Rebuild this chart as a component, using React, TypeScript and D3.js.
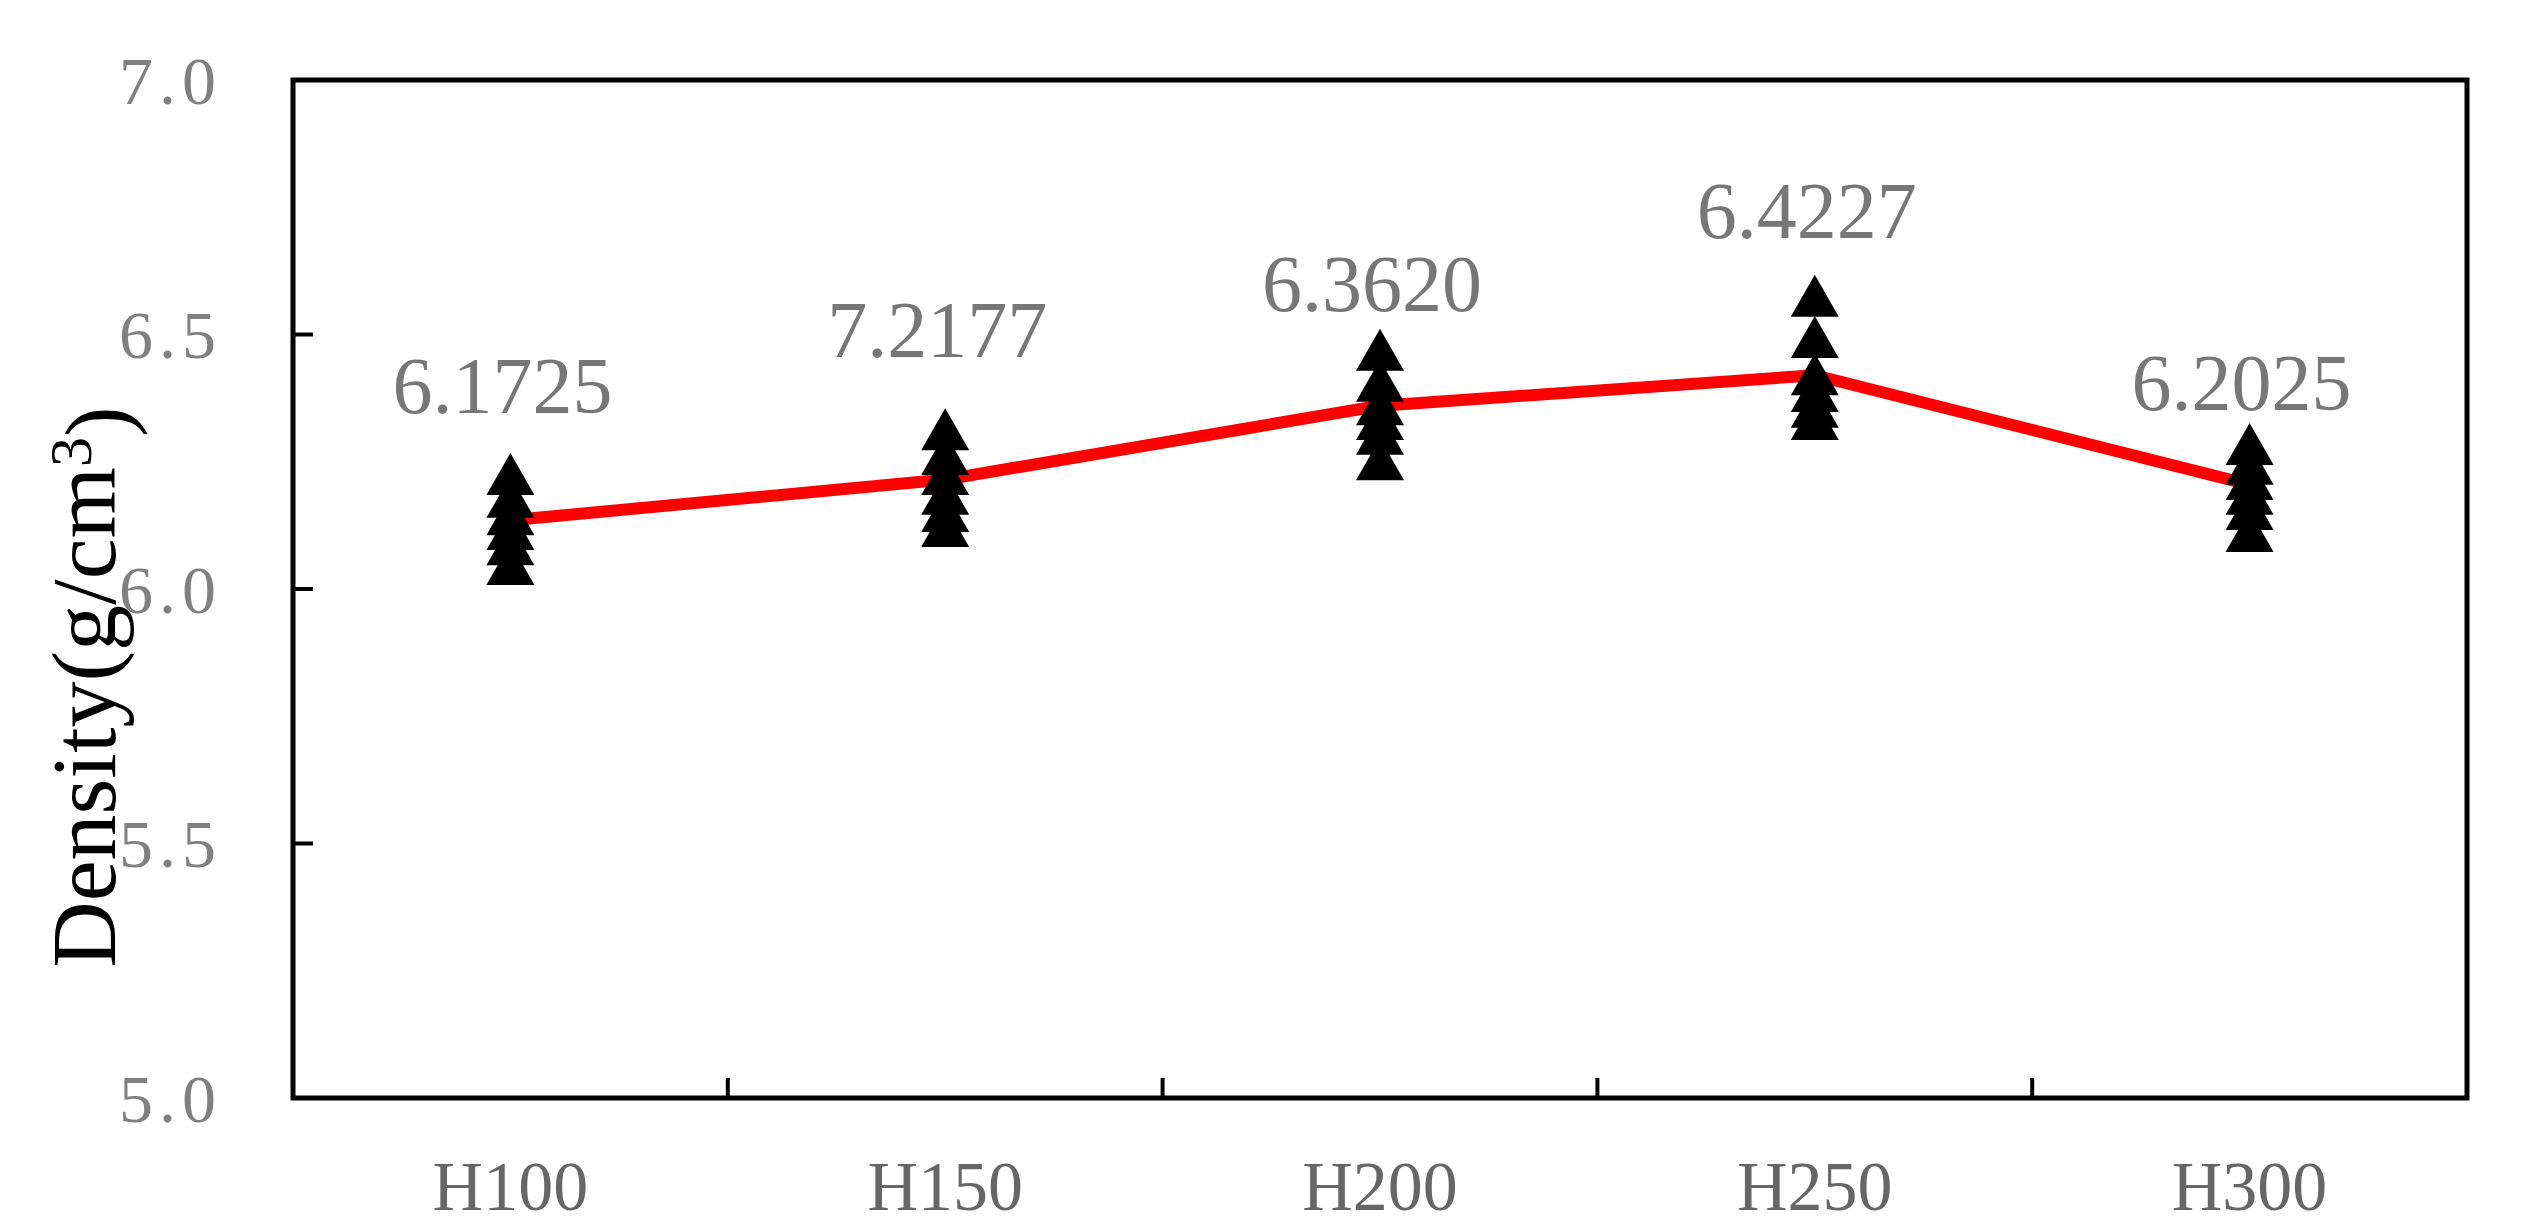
import React from "react";
import * as d3 from "d3";

const categories = ["H100", "H150", "H200", "H250", "H300"];
const samplesH100 = [6.226, 6.181, 6.147, 6.118, 6.088, 6.049];
const samplesH150 = [6.314, 6.265, 6.226, 6.187, 6.153, 6.124];
const samplesH200 = [6.47, 6.409, 6.363, 6.334, 6.305, 6.255];
const samplesH250 = [6.576, 6.495, 6.422, 6.389, 6.358, 6.334];
const samplesH300 = [6.285, 6.246, 6.216, 6.187, 6.157, 6.114];
const lineValues = [6.135, 6.215, 6.36, 6.42, 6.205];
const labelTexts = ["6.1725", "7.2177", "6.3620", "6.4227", "6.2025"];
const labelAnchors = [6.346, 6.456, 6.546, 6.69, 6.352];
const yTicks = [5.0, 5.5, 6.0, 6.5, 7.0];

const samples = [samplesH100, samplesH150, samplesH200, samplesH250, samplesH300];

const W = 2523;
const H = 1231;
const M = { left: 293, right: 2467, top: 80, bottom: 1098 };

export default function App() {
  const x = d3.scaleBand<string>().domain(categories).range([M.left, M.right]).padding(0);
  const y = d3.scaleLinear().domain([5, 7]).range([M.bottom, M.top]);
  const cx = (c: string) => (x(c) as number) + x.bandwidth() / 2;

  const line = d3
    .line<number>()
    .x((_, i) => cx(categories[i]))
    .y((d) => y(d));

  const tw = 48;
  const th = 42;
  const tri = (px: number, py: number) =>
    `M${px},${py - th / 2}L${px + tw / 2},${py + th / 2}L${px - tw / 2},${py + th / 2}Z`;

  const innerX = categories.slice(1).map((c) => x(c) as number);
  const serif = "'Liberation Serif', 'Times New Roman', serif";

  return (
    <svg
      width={W}
      height={H}
      style={{ position: "absolute", left: 0, top: 0, background: "#fff" }}
    >
      <rect x={0} y={0} width={W} height={H} fill="#fff" />
      {/* line */}
      <path d={line(lineValues) || ""} fill="none" stroke="#ff0000" strokeWidth={12} strokeLinejoin="round" />
      {/* triangles */}
      {samples.map((arr, i) =>
        arr.map((v, j) => <path key={`${i}-${j}`} d={tri(cx(categories[i]), y(v))} fill="#000" />)
      )}
      {/* value labels */}
      {labelTexts.map((t, i) => (
        <text
          key={t + i}
          x={cx(categories[i]) - 8}
          y={y(labelAnchors[i])}
          textAnchor="middle"
          fontFamily={serif}
          fontSize={80}
          fill="#777"
        >
          {t}
        </text>
      ))}
      {/* frame */}
      <rect
        x={M.left}
        y={M.top}
        width={M.right - M.left}
        height={M.bottom - M.top}
        fill="none"
        stroke="#000"
        strokeWidth={5}
      />
      {/* x inner ticks */}
      {innerX.map((tx, i) => (
        <line key={i} x1={tx} x2={tx} y1={M.bottom} y2={M.bottom - 20} stroke="#000" strokeWidth={4} />
      ))}
      {/* y ticks */}
      {yTicks.map((t, i) => (
        <g key={i}>
          {t > 5 && t < 7 && (
            <line x1={M.left} x2={M.left + 20} y1={y(t)} y2={y(t)} stroke="#000" strokeWidth={4} />
          )}
          <text
            x={222}
            y={y(t)}
            dy="0.35em"
            textAnchor="end"
            fontFamily={serif}
            fontSize={68}
            letterSpacing={6}
            fill="#808080"
          >
            {d3.format(".1f")(t)}
          </text>
        </g>
      ))}
      {/* x labels */}
      {categories.map((c) => (
        <text key={c} x={cx(c)} y={1210} textAnchor="middle" fontFamily={serif} fontSize={70} fill="#666">
          {c}
        </text>
      ))}
      {/* y label */}
      <text
        transform={`translate(115, 687) rotate(-90)`}
        textAnchor="middle"
        fontFamily={serif}
        fontSize={92}
        fill="#000"
      >
        Density(g/cm
        <tspan dy="-0.4em" fontSize={60}>3</tspan>
        <tspan dy="0.4em">)</tspan>
      </text>
    </svg>
  );
}
